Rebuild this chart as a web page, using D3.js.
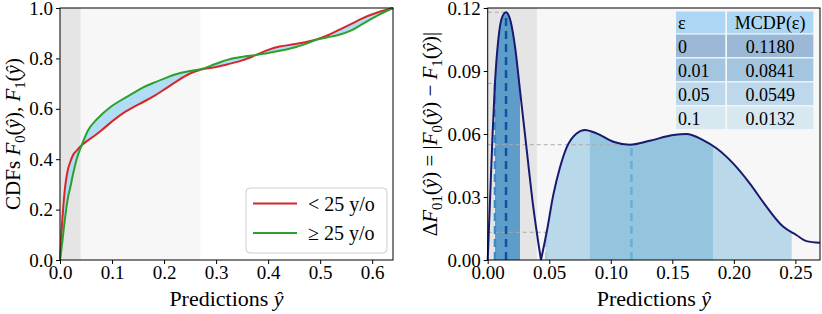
<!DOCTYPE html>
<html>
<head>
<meta charset="utf-8">
<script src="https://d3js.org/d3.v7.min.js"></script>
<style>
  body { margin: 0; background: #fff; }
  svg text { font-family: "Liberation Serif", "Times New Roman", serif; }
  .tick text { font-size: 19px; fill: #000; }
  .tick line { stroke: #000; }
</style>
</head>
<body>
<svg id="chart" width="822" height="314"></svg>
<script>
// ---- left panel: CDFs of the two age groups ----
var cdfX     = [0, 0.0032, 0.0064, 0.0096, 0.0128, 0.016, 0.0192, 0.0256, 0.032, 0.0416, 0.054, 0.067, 0.08, 0.099, 0.118, 0.138, 0.16, 0.182, 0.2, 0.221, 0.25, 0.27, 0.3, 0.323, 0.35, 0.375, 0.4, 0.422, 0.45, 0.471, 0.496, 0.515, 0.535, 0.56, 0.58, 0.61, 0.64];
var cdfYoung = [0, 0.12, 0.214, 0.285, 0.333, 0.365, 0.386, 0.419, 0.434, 0.455, 0.475, 0.494, 0.515, 0.548, 0.578, 0.603, 0.627, 0.652, 0.676, 0.705, 0.74, 0.755, 0.766, 0.777, 0.792, 0.812, 0.834, 0.847, 0.856, 0.864, 0.877, 0.892, 0.912, 0.937, 0.958, 0.982, 1.0];
var cdfOld   = [0, 0.05, 0.108, 0.165, 0.215, 0.255, 0.283, 0.346, 0.40, 0.455, 0.515, 0.55, 0.577, 0.61, 0.635, 0.659, 0.685, 0.705, 0.72, 0.736, 0.75, 0.757, 0.779, 0.795, 0.806, 0.813, 0.821, 0.83, 0.843, 0.857, 0.876, 0.884, 0.893, 0.911, 0.935, 0.97, 1.0];
var cdfXTicks = [0, 0.1, 0.2, 0.3, 0.4, 0.5, 0.6];
var cdfYTicks = [0, 0.2, 0.4, 0.6, 0.8, 1.0];
var legendNames = ['< 25 y/o', '\u2265 25 y/o'];

// ---- right panel: |F0 - F1| ----
var diffX = [0, 0.0019, 0.004, 0.0059, 0.0086, 0.0114, 0.0149, 0.0187, 0.0222, 0.0262, 0.0317, 0.037, 0.0433, 0.0479, 0.0533, 0.0587, 0.0641, 0.0722, 0.079, 0.0885, 0.102, 0.1155, 0.1317, 0.1507, 0.1615, 0.175, 0.1859, 0.1994, 0.2129, 0.2265, 0.24, 0.2508, 0.259, 0.27];
var diffY = [0, 0.0286, 0.0603, 0.0841, 0.1048, 0.1151, 0.118, 0.1135, 0.1016, 0.081, 0.0524, 0.0254, 0, 0.0132, 0.031, 0.044, 0.0535, 0.0602, 0.0619, 0.0603, 0.0563, 0.0549, 0.0568, 0.0595, 0.060, 0.0571, 0.0532, 0.046, 0.0365, 0.0254, 0.0159, 0.0119, 0.009, 0.0082];
var diffXTicks = [0, 0.05, 0.10, 0.15, 0.20, 0.25];
var diffYTicks = [0, 0.03, 0.06, 0.09, 0.12];

var epsLabels = ['0', '0.01', '0.05', '0.1'];
var mcdpVals  = [0.1180, 0.0841, 0.0549, 0.0132];
var mcdpAt    = [0.0149, 0.0059, 0.1168, 0.0475];   // where each MCDP is reached
var winLo     = [null, 0.0059, 0.083, 0.047];
var winHi     = [null, 0.0262, 0.183, 0.247];

var bandEdges = [0, 0.04, 0.27];

var dashColors = ['#0b559f', '#3a8bc8', '#6aaed6', '#a6cde5'];
var fillColors = [null, '#5e9dca', '#95c5de', '#b9d9ea'];
var rowColors  = ['#9bb9d6', '#a4c5df', '#bcd8ea', '#d8e8f1'];

var svg = d3.select('#chart');

function mathText(sel, parts, size) {
  // parts: [text, kind] with kind n = normal, i = italic, s = subscript
  var t = sel.append('text').style('font-size', size + 'px').attr('text-anchor', 'middle');
  var shifted = false;
  parts.forEach(function(p) {
    var ts = t.append('tspan').text(p[0]);
    if (p[1] == 'i') ts.style('font-style', 'italic');
    if (p[1] == 's') {
      ts.style('font-size', (size * 0.7) + 'px');
      if (!shifted) { ts.attr('dy', size * 0.22); shifted = true; }
    } else if (shifted) {
      ts.attr('dy', -size * 0.22); shifted = false;
    }
  });
  return t;
}

function axes(g, x, y, xt, yt, xf, yf) {
  var h = y.range()[0], l = x.range()[0];
  g.append('g').attr('transform', 'translate(0,' + h + ')')
    .call(d3.axisBottom(x).tickValues(xt).tickFormat(d3.format(xf)).tickSize(4).tickPadding(2))
    .call(a => a.select('.domain').remove());
  g.append('g').attr('transform', 'translate(' + l + ',0)')
    .call(d3.axisLeft(y).tickValues(yt).tickFormat(d3.format(yf)).tickSize(4).tickPadding(3))
    .call(a => a.select('.domain').remove());
  g.append('rect')
    .attr('x', l).attr('y', y.range()[1])
    .attr('width', x.range()[1] - l).attr('height', h - y.range()[1])
    .attr('fill', 'none').attr('stroke', '#000').attr('stroke-width', 1);
}

function bands(g, x, y, lightTo) {
  g.append('rect').attr('x', x(bandEdges[0])).attr('y', y.range()[1])
    .attr('width', x(bandEdges[1]) - x(bandEdges[0])).attr('height', y.range()[0] - y.range()[1])
    .attr('fill', '#e5e5e5');
  g.append('rect').attr('x', x(bandEdges[1])).attr('y', y.range()[1])
    .attr('width', x(lightTo) - x(bandEdges[1])).attr('height', y.range()[0] - y.range()[1])
    .attr('fill', '#f7f7f7');
}

// ================= left panel =================
var x1 = d3.scaleLinear().domain([0, 0.64]).range([60, 393]);
var y1 = d3.scaleLinear().domain([0, 1]).range([260, 8]);
var left = svg.append('g');

bands(left, x1, y1, bandEdges[2]);

var idx = d3.range(cdfX.length);
left.append('path').datum(idx)
  .attr('fill', '#b0dcf5')
  .attr('d', d3.area().curve(d3.curveMonotoneX)
    .x(i => x1(cdfX[i])).y0(i => y1(cdfYoung[i])).y1(i => y1(cdfOld[i])));

[[cdfYoung, '#d62728'], [cdfOld, '#2ca02c']].forEach(function(s) {
  left.append('path').datum(idx)
    .attr('fill', 'none').attr('stroke', s[1]).attr('stroke-width', 2)
    .attr('d', d3.line().curve(d3.curveMonotoneX).x(i => x1(cdfX[i])).y(i => y1(s[0][i])));
});

axes(left, x1, y1, cdfXTicks, cdfYTicks, '.1f', '.1f');

// legend
var lg = left.append('g').attr('transform', 'translate(246,188)');
lg.append('rect').attr('width', 141).attr('height', 65).attr('rx', 4)
  .attr('fill', '#fff').attr('fill-opacity', 0.8).attr('stroke', '#ccc');
legendNames.forEach(function(n, k) {
  var yy = 15.5 + k * 29.5;
  lg.append('line').attr('x1', 7).attr('x2', 51).attr('y1', yy).attr('y2', yy)
    .attr('stroke', k == 0 ? '#d62728' : '#2ca02c').attr('stroke-width', 2);
  lg.append('text').attr('x', 62).attr('y', yy + 7).style('font-size', '20px').text(n);
});

mathText(left.append('g').attr('transform', 'translate(20,134) rotate(-90)'),
  [['CDFs ', 'n'], ['F', 'i'], ['0', 's'], ['(', 'n'], ['\u0177', 'i'], ['), ', 'n'],
   ['F', 'i'], ['1', 's'], ['(', 'n'], ['\u0177', 'i'], [')', 'n']], 21);
mathText(left.append('g').attr('transform', 'translate(226.5,306)'),
  [['Predictions ', 'n'], ['\u0177', 'i']], 22);

// ================= right panel =================
var x2 = d3.scaleLinear().domain([0, 0.27]).range([487.7, 820]);
var y2 = d3.scaleLinear().domain([0, 0.12]).range([260, 8]);
var right = svg.append('g');

bands(right, x2, y2, 0.27);

// split the curve at its interior zero so the V stays sharp
var zeroAt = diffY.findIndex((v, i) => i > 0 && v === 0);
var segs = [d3.range(0, zeroAt + 1), d3.range(zeroAt, diffX.length)];
var area2 = d3.area().curve(d3.curveMonotoneX).x(i => x2(diffX[i])).y0(y2(0)).y1(i => y2(diffY[i]));
var line2 = d3.line().curve(d3.curveMonotoneX).x(i => x2(diffX[i])).y(i => y2(diffY[i]));

var defs = svg.append('defs');
[3, 2, 1].forEach(function(k) {
  defs.append('clipPath').attr('id', 'win' + k).append('rect')
    .attr('x', x2(winLo[k])).attr('y', y2(0.12))
    .attr('width', x2(winHi[k]) - x2(winLo[k])).attr('height', y2(0) - y2(0.12));
  segs.forEach(function(s) {
    right.append('path').datum(s).attr('clip-path', 'url(#win' + k + ')')
      .attr('fill', fillColors[k]).attr('d', area2);
  });
});

// reference dashes for each epsilon
mcdpVals.forEach(function(v, k) {
  right.append('line')
    .attr('x1', x2(0)).attr('x2', x2(mcdpAt[k])).attr('y1', y2(v)).attr('y2', y2(v))
    .attr('stroke', '#aaa').attr('stroke-width', 1).attr('stroke-dasharray', '4,3');
});
mcdpVals.slice().reverse().forEach(function(v, r) {
  var k = mcdpVals.length - 1 - r;
  right.append('line')
    .attr('x1', x2(mcdpAt[k])).attr('x2', x2(mcdpAt[k])).attr('y1', y2(0)).attr('y2', y2(v))
    .attr('stroke', dashColors[k]).attr('stroke-width', 2.5).attr('stroke-dasharray', '8,5');
});

segs.forEach(function(s) {
  right.append('path').datum(s).attr('fill', 'none')
    .attr('stroke', '#191970').attr('stroke-width', 2).attr('d', line2);
});

axes(right, x2, y2, diffXTicks, diffYTicks, '.2f', '.2f');

// table of MCDP values
var tb = right.append('g');
var colX = [676, 727], colW = [49.3, 86.3];
var rowY = function(r) { return r == 0 ? 11.5 : 34.5 + (r - 1) * 24; };
var rowH = function(r) { return r == 0 ? 21.8 : 22.6; };
var rows = [['\u03b5', 'MCDP(\u03b5)']].concat(epsLabels.map((e, k) => [e, mcdpVals[k].toFixed(4)]));
rows.forEach(function(row, r) {
  row.forEach(function(txt, c) {
    tb.append('rect').attr('x', colX[c]).attr('y', rowY(r))
      .attr('width', colW[c]).attr('height', rowH(r))
      .attr('fill', r == 0 ? '#acd7f4' : rowColors[r - 1]);
    tb.append('text')
      .attr('x', c == 0 ? colX[c] + 2 : colX[c] + colW[c] / 2)
      .attr('y', rowY(r) + rowH(r) - 4.5)
      .attr('text-anchor', c == 0 ? 'start' : 'middle')
      .style('font-size', '18px').text(txt);
  });
});

mathText(right.append('g').attr('transform', 'translate(437,134) rotate(-90)'),
  [['\u0394', 'n'], ['F', 'i'], ['01', 's'], ['(', 'n'], ['\u0177', 'i'], [') = |', 'n'],
   ['F', 'i'], ['0', 's'], ['(', 'n'], ['\u0177', 'i'], [') \u2212 ', 'n'],
   ['F', 'i'], ['1', 's'], ['(', 'n'], ['\u0177', 'i'], [')|', 'n']], 21);
mathText(right.append('g').attr('transform', 'translate(653.9,306)'),
  [['Predictions ', 'n'], ['\u0177', 'i']], 22);
</script>
</body>
</html>
